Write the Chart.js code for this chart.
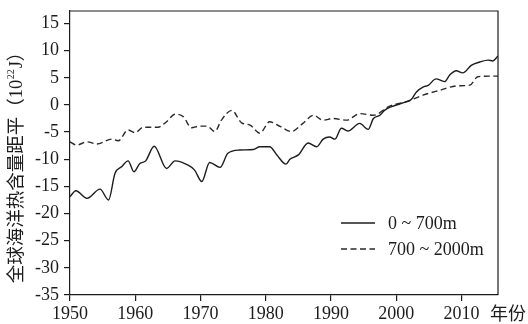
<!DOCTYPE html>
<html>
<head>
<meta charset="utf-8">
<script src="https://cdn.jsdelivr.net/npm/chart.js@4"></script>
<style>
  html, body { margin: 0; padding: 0; background: #fff; }
  #wrap { width: 528px; height: 324px; }
</style>
</head>
<body>
<div id="wrap"><canvas id="c" width="528" height="324"></canvas></div>
<script>
// Global ocean heat content anomaly (10^22 J), smoothed series
const upperYears = [1950.0, 1950.9, 1952.6, 1954.6, 1955.9, 1956.9, 1957.9, 1958.9, 1959.8, 1960.7,
  1961.6, 1962.9, 1964.8, 1966.1, 1968.1, 1969.1, 1970.2, 1971.4, 1973.0, 1974.2,
  1976.0, 1978.1, 1979.1, 1980.6, 1981.7, 1983.1, 1983.7, 1985.0, 1986.5, 1987.8,
  1988.8, 1989.8, 1990.6, 1991.6, 1992.6, 1994.4, 1995.7, 1996.5, 1997.5, 1998.2,
  1999.3, 2001.6, 2002.3, 2003.1, 2004.1, 2004.9, 2006.1, 2007.4, 2008.2, 2009.2,
  2010.2, 2011.5, 2012.8, 2014.1, 2014.8, 2015.6];
const upperValues = [-16.9, -15.8, -17.2, -15.5, -17.5, -12.6, -11.4, -10.3, -12.3, -10.8,
  -10.3, -7.6, -11.7, -10.3, -11.1, -12.0, -14.1, -10.6, -11.5, -8.9,
  -8.3, -8.2, -7.7, -7.7, -9.2, -10.9, -10.0, -9.2, -7.0, -7.7,
  -6.3, -5.9, -6.3, -4.3, -4.8, -3.4, -4.5, -2.5, -1.9, -1.0,
  -0.3, 0.6, 1.0, 2.4, 3.3, 3.6, 4.8, 4.3, 5.5, 6.3,
  5.9, 7.3, 7.9, 8.25, 8.1, 9.0];

const deepYears = [1950.0, 1951.0, 1952.6, 1954.1, 1956.4, 1957.4, 1958.9, 1960.0, 1961.2, 1963.5,
  1964.8, 1966.1, 1967.4, 1968.6, 1969.9, 1971.0, 1972.2, 1973.2, 1974.8, 1976.3,
  1977.6, 1979.1, 1980.6, 1982.2, 1983.9, 1985.7, 1987.3, 1988.8, 1990.3, 1992.4,
  1994.4, 1996.5, 1999.0, 2001.6, 2004.1, 2006.7, 2009.2, 2011.3, 2012.5, 2014.3, 2015.6];
const deepValues = [-6.8, -7.4, -6.8, -7.2, -6.3, -6.6, -4.6, -5.1, -4.1, -4.1,
  -3.1, -1.7, -2.2, -4.2, -3.9, -3.9, -4.9, -2.8, -1.0, -3.3,
  -3.7, -5.2, -3.1, -3.95, -4.9, -3.4, -1.9, -2.8, -2.5, -2.8,
  -1.6, -1.9, -0.2, 0.6, 1.8, 2.7, 3.5, 3.65, 5.2, 5.3, 5.3];

const seriesLabels = ['0 ~ 700m', '700 ~ 2000m'];
const yTitleParts = ['全球海洋热含量距平（10', '22', 'J）'];
const xTitle = '年份';

const INK = '#1c1c1c';
const SERIF = '"Liberation Serif", "Times New Roman", serif';
const MIXED = '"Liberation Serif", "Noto Sans CJK SC", serif';
const CJK = '"Noto Sans CJK SC", "Liberation Serif", sans-serif';

const toPoints = (xs, ys) => xs.map((x, i) => ({ x: x, y: ys[i] }));

const framePlugin = {
  id: 'frame',
  afterDraw(chart) {
    const { ctx, chartArea: a } = chart;
    ctx.save();
    // top and right edges of the box
    ctx.strokeStyle = INK;
    ctx.lineWidth = 1.2;
    ctx.beginPath();
    ctx.moveTo(a.left, a.top);
    ctx.lineTo(a.right, a.top);
    ctx.lineTo(a.right, a.bottom);
    ctx.stroke();

    // legend inside the plot
    const ds = chart.data.datasets;
    const lx = a.left + 271, lw = 34, tx = a.left + 318;
    const rows = [a.top + 212, a.top + 238];
    ctx.font = '18px ' + SERIF;
    ctx.textBaseline = 'middle';
    ctx.textAlign = 'left';
    ds.forEach((d, i) => {
      ctx.strokeStyle = d.borderColor;
      ctx.lineWidth = d.borderWidth;
      ctx.setLineDash(d.borderDash || []);
      ctx.beginPath();
      ctx.moveTo(lx, rows[i]);
      ctx.lineTo(lx + lw, rows[i]);
      ctx.stroke();
      ctx.setLineDash([]);
      ctx.fillStyle = INK;
      ctx.fillText(d.label, tx, rows[i] + 1);
    });

    // x axis unit label
    ctx.font = '18px ' + CJK;
    ctx.textAlign = 'center';
    ctx.fillText(xTitle, 508, 313);

    // rotated y axis title with superscript exponent
    ctx.translate(17, 163);
    ctx.rotate(-Math.PI / 2);
    const bigFont = '18.5px ' + MIXED;
    const smallFont = '10px ' + SERIF;
    ctx.font = bigFont;
    const w0 = ctx.measureText(yTitleParts[0]).width;
    const w2 = ctx.measureText(yTitleParts[2]).width;
    ctx.font = smallFont;
    const w1 = ctx.measureText(yTitleParts[1]).width + 1.5;
    let x = -(w0 + w1 + w2) / 2;
    ctx.textAlign = 'left';
    ctx.font = bigFont;
    ctx.fillText(yTitleParts[0], x, 0);
    x += w0;
    ctx.font = smallFont;
    ctx.fillText(yTitleParts[1], x + 0.7, -6);
    x += w1;
    ctx.font = bigFont;
    ctx.fillText(yTitleParts[2], x, 0);
    ctx.restore();
  }
};

new Chart(document.getElementById('c'), {
  type: 'line',
  data: {
    datasets: [
      {
        label: seriesLabels[0],
        data: toPoints(upperYears, upperValues),
        borderColor: INK,
        borderWidth: 1.4,
        pointRadius: 0,
        fill: false,
        cubicInterpolationMode: 'monotone'
      },
      {
        label: seriesLabels[1],
        data: toPoints(deepYears, deepValues),
        borderColor: '#2a2a2a',
        borderWidth: 1.4,
        borderDash: [6, 3.5],
        pointRadius: 0,
        fill: false,
        cubicInterpolationMode: 'monotone'
      }
    ]
  },
  options: {
    responsive: false,
    animation: false,
    devicePixelRatio: 1,
    layout: { padding: { top: 11, right: 30, left: 0, bottom: 0 } },
    plugins: { legend: { display: false }, tooltip: { enabled: false } },
    scales: {
      x: {
        type: 'linear',
        min: 1950,
        max: 2015.6,
        afterFit(s) { s.height = 29; s.paddingLeft = 0; s.paddingRight = 0; },
        ticks: {
          stepSize: 10,
          includeBounds: false,
          maxRotation: 0,
          padding: 2,
          color: INK,
          font: { family: SERIF, size: 18 },
          callback: v => String(v)
        },
        grid: { drawOnChartArea: false, drawTicks: true, tickLength: 6, color: INK, lineWidth: 1.2 },
        border: { display: true, color: INK, width: 1.2 }
      },
      y: {
        min: -35,
        max: 17.3,
        afterFit(s) { s.width = 70; s.paddingTop = 0; s.paddingBottom = 0; },
        ticks: {
          stepSize: 5,
          includeBounds: false,
          padding: 5,
          color: INK,
          font: { family: SERIF, size: 18 },
          callback: v => String(v)
        },
        grid: { drawOnChartArea: false, drawTicks: true, tickLength: 6, color: INK, lineWidth: 1.2 },
        border: { display: true, color: INK, width: 1.2 }
      }
    }
  },
  plugins: [framePlugin]
});
</script>
</body>
</html>
